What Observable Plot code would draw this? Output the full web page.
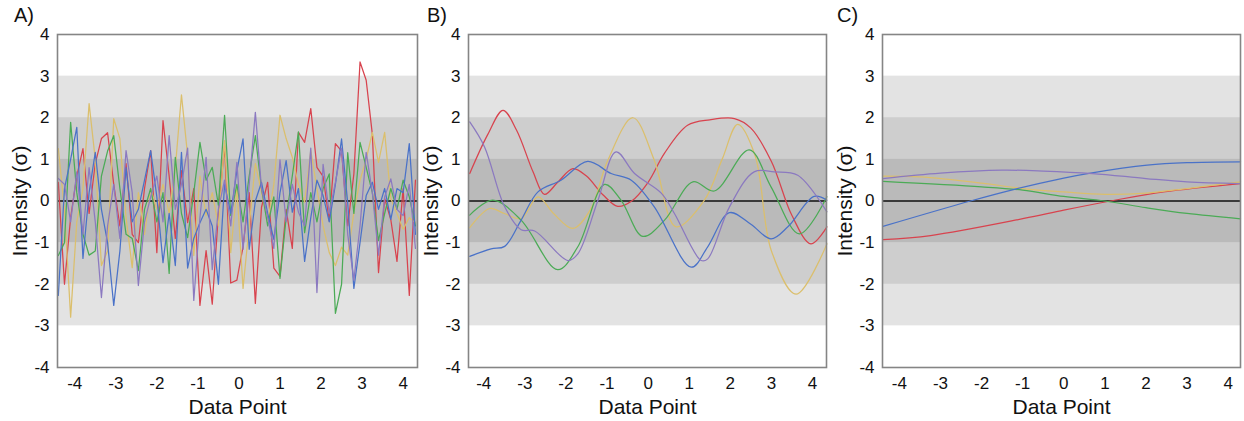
<!DOCTYPE html>
<html>
<head>
<meta charset="utf-8">
<script src="https://cdn.jsdelivr.net/npm/d3@7"></script>
<script src="https://cdn.jsdelivr.net/npm/@observablehq/plot@0.6"></script>
<style>
  html, body { margin: 0; padding: 0; background: #fff; }
  #wrap { position: relative; width: 1244px; height: 421px; overflow: hidden; font-family: "Liberation Sans", Arial, Helvetica, sans-serif; }
  .panel { position: absolute; top: 0; }
  .tag { position: absolute; top: 4px; font-size: 20px; color: #111; }
</style>
</head>
<body>
<div id="wrap"></div>
<script>
// ---------- data ----------
const seriesNames = ["Series 1", "Series 2", "Series 3", "Series 4", "Series 5"];
const seriesColors = ["#d8434e", "#dbbf6c", "#4bab56", "#4a72c8", "#8b79c0"];
const xTicks = [-4, -3, -2, -1, 0, 1, 2, 3, 4];
const yTicks = [-4, -3, -2, -1, 0, 1, 2, 3, 4];
const bandLevels = [3, 2, 1];
const bandColors = ["#e3e3e3", "#cecece", "#bababa"];

// Panel A: data point positions (index grid) and noisy series
const xA = d3.range(59).map(i => -4.4 + 0.15 * i);
const redA = [0.45,-2.0,-0.4,0.6,1.26,-0.3,0.9,1.5,1.64,0.4,-0.6,0.9,-0.8,-1.0,0.3,1.21,-1.24,1.93,0.6,-0.9,0.73,-0.52,0.3,-2.51,-1.19,-2.48,-0.3,1.33,-1.97,-1.9,-1.1,0.2,-2.46,-0.15,0.45,-1.61,-1.81,-0.2,-1.14,1.65,1.41,2.22,0.81,0.59,-0.48,1.38,1.2,-0.6,0.65,3.34,2.9,1.6,-1.72,0.06,-0.45,-1.45,0.3,-2.27,0.5];
const yellowA = [1.26,-0.2,-2.79,-0.5,0.3,2.34,1.0,-1.55,-1.2,1.98,1.5,-0.4,-1.6,0.2,-0.8,0.3,-0.2,0.4,-0.3,0.8,2.55,1.09,-1.31,0.6,-0.35,0.2,-0.6,1.45,-1.24,0.3,-2.1,-0.6,0.9,0.2,-0.5,0.4,2.06,1.5,1.05,0.4,-0.03,1.21,0.3,-0.6,-1.24,-1.55,-1.11,-1.3,-0.28,0.5,1.0,1.65,0.93,1.65,0.06,-0.3,-0.68,-0.4,-0.52];
const greenA = [-1.31,-1.0,1.89,0.2,-0.8,-1.3,-1.2,0.6,1.2,1.57,0.3,-0.8,-0.9,-1.67,-0.2,0.3,-0.5,0.2,-1.74,1.05,-0.3,-0.88,0.2,1.41,0.5,0.81,-0.1,2.06,-0.35,0.4,-0.5,0.6,1.57,0.3,-0.6,0.1,-1.86,-0.4,0.6,1.66,-0.76,0.2,-0.5,0.3,0.65,-2.7,-2.0,1.16,-0.3,1.41,0.81,0.2,-0.95,-0.3,0.3,-0.2,0.5,0.1,-0.6];
const blueA = [-2.27,0.3,1.0,1.77,-1.38,0.2,1.17,-0.2,-1.0,-2.51,-1.2,0.8,-0.5,-0.2,0.5,1.21,0.1,-1.48,-0.3,-1.55,1.17,-1.61,-0.9,-0.52,-0.2,-0.6,-2.0,0.4,-0.3,0.73,1.49,-1.16,0.0,0.45,-0.3,-0.92,0.2,0.97,-0.27,0.3,-1.45,-0.4,0.5,0.13,-0.5,0.4,1.49,-0.05,-2.1,-1.0,0.13,0.45,-0.2,0.3,-0.44,0.3,0.2,1.38,-0.8];
const purpleA = [0.54,0.4,-0.5,0.7,-0.8,0.8,-0.5,-2.32,-0.6,0.4,-0.9,1.21,0.2,-2.03,-0.5,0.1,0.6,-0.5,1.57,-0.2,0.4,1.27,-2.39,-0.4,1.05,-1.65,-0.2,0.5,-0.6,0.93,-1.16,0.4,2.13,0.3,-0.4,-1.14,0.99,-0.5,0.4,-0.27,-0.6,1.27,-2.2,0.88,-0.3,0.45,1.27,-0.8,-1.9,-0.6,1.17,0.2,-1.3,0.1,0.53,-0.2,-0.35,0.4,-1.14];

// Panel B: smoothed series (x, y knots)
const redBx = [-4.34,-3.9,-3.53,-3.2,-2.8,-2.52,-2.2,-1.83,-1.5,-1.1,-0.74,-0.4,0,0.4,0.96,1.5,2.1,2.5,3.0,3.5,3.96,4.35];
const redBy = [0.66,1.6,2.18,1.7,0.7,0.16,0.45,0.78,0.6,0.15,-0.13,0.0,0.45,1.15,1.82,1.95,1.98,1.75,0.95,-0.35,-1.03,-0.62];
const yellowBx = [-4.34,-3.86,-3.5,-3.09,-2.68,-2.3,-1.83,-1.4,-0.98,-0.37,0.15,0.68,1.37,1.8,2.18,2.6,3.0,3.6,4.35];
const yellowBy = [-0.64,-0.18,-0.3,-0.42,0.1,-0.3,-0.66,-0.2,0.98,2.0,0.98,-0.62,0.02,1.0,1.84,1.1,-1.2,-2.24,-1.03];
const greenBx = [-4.34,-3.78,-3.09,-2.2,-1.71,-1.06,-0.66,-0.13,0.4,1.09,1.61,2.46,2.99,3.68,4.35];
const greenBy = [-0.34,0.02,-0.46,-1.65,-1.1,0.4,0.02,-0.85,-0.46,0.46,0.24,1.23,0.34,-0.79,0.1];
const blueBx = [-4.34,-3.82,-3.49,-3.09,-2.68,-2.12,-1.47,-0.9,-0.41,0.15,1.05,1.45,1.98,2.5,2.99,3.4,4.04,4.35];
const blueBy = [-1.33,-1.15,-1.09,-0.46,0.22,0.5,0.95,0.66,0.5,-0.14,-1.59,-1.1,-0.28,-0.56,-0.91,-0.62,0.11,0.02];
const purpleBx = [-4.34,-3.98,-3.49,-3.09,-2.76,-1.95,-1.71,-1.22,-0.78,-0.33,0.32,0.64,1.29,1.45,1.98,2.58,3.07,3.64,4.35];
const purpleBy = [1.9,1.3,-0.14,-0.69,-0.72,-1.43,-1.27,0.02,1.18,0.66,0.19,-0.3,-1.43,-1.39,-0.14,0.7,0.7,0.62,-0.26];

// Panel C: very smooth series
const blueCx = [-4.4,-2.27,-1.2,0,0.65,2.03,3,4.3];
const blueCy = [-0.61,0,0.28,0.55,0.67,0.86,0.92,0.94];
const redCx = [-4.4,-3.24,-0.97,0,1.14,2.43,4.3];
const redCy = [-0.93,-0.83,-0.42,-0.22,0,0.22,0.42];
const greenCx = [-4.4,-2,-1,0,1,2,3,4.3];
const greenCy = [0.47,0.34,0.26,0.11,0,-0.16,-0.3,-0.43];
const purpleCx = [-4.4,-3,-1.5,-0.5,0.7,2,3,4.3];
const purpleCy = [0.54,0.67,0.74,0.72,0.66,0.54,0.46,0.42];
const yellowCx = [-4.4,-3.5,-2,-1,0,1,2,3,4.3];
const yellowCy = [0.6,0.58,0.43,0.3,0.22,0.16,0.19,0.3,0.46];

// ---------- build tables ----------
function table(name, xs, ys) { return xs.map((x, i) => ({series: name, x, y: ys[i]})); }
const [S1, S2, S3, S4, S5] = seriesNames; // red, yellow, green, blue, purple
const dataA = [].concat(
  table(S1, xA, redA), table(S2, xA, yellowA), table(S3, xA, greenA),
  table(S4, xA, blueA), table(S5, xA, purpleA));
const dataB = [].concat(
  table(S1, redBx, redBy), table(S2, yellowBx, yellowBy), table(S3, greenBx, greenBy),
  table(S4, blueBx, blueBy), table(S5, purpleBx, purpleBy));
const dataC = [].concat(
  table(S1, redCx, redCy), table(S2, yellowCx, yellowCy), table(S3, greenCx, greenCy),
  table(S4, blueCx, blueCy), table(S5, purpleCx, purpleCy));
const bands = bandLevels.map((v, i) => ({y1: -v, y2: v, fill: bandColors[i]}));

const FONT = '"Liberation Sans", Arial, Helvetica, sans-serif';

function panel(data, curve, width, mLeft, mRight, xDomain) {
  return Plot.plot({
    width, height: 421,
    marginLeft: mLeft, marginRight: mRight, marginTop: 34, marginBottom: 54,
    style: {fontFamily: FONT, fontSize: "17px", background: "transparent", color: "#111"},
    x: {domain: xDomain},
    y: {domain: [-4, 4]},
    color: {domain: seriesNames, range: seriesColors},
    marks: [
      Plot.rect(bands, {y1: "y1", y2: "y2", fill: "fill"}),
      Plot.ruleY([0], {stroke: "#3a3a3a", strokeWidth: 2}),
      Plot.line(data, {x: "x", y: "y", z: "series", stroke: "series", strokeWidth: 1.25, curve}),
      Plot.frame({stroke: "#858585", strokeWidth: 1.6}),
      Plot.axisX(xTicks, {tickSize: 0, tickPadding: 9, tickFormat: d => String(d), label: null}),
      Plot.axisY(yTicks, {tickSize: 0, tickPadding: 8, tickFormat: d => String(d), label: null}),
      Plot.text(["Data Point"], {frameAnchor: "bottom", lineAnchor: "middle", dy: 40, fontSize: 21, fill: "#111"}),
      Plot.text(["Intensity (σ)"], {frameAnchor: "left", textAnchor: "middle", lineAnchor: "middle", rotate: -90, dx: -37, fontSize: 21, fill: "#111"})
    ]
  });
}

const wrap = document.getElementById("wrap");
const specs = [
  {left: 0, tag: "A)", tagX: 14, chart: panel(dataA, "linear", 420, 57, 3, [-4.42, 4.35])},
  {left: 420, tag: "B)", tagX: 427, chart: panel(dataB, "catmull-rom", 410, 48, 4, [-4.37, 4.34])},
  {left: 830, tag: "C)", tagX: 837, chart: panel(dataC, "catmull-rom", 414, 52, 4, [-4.41, 4.3])}
];
for (const s of specs) {
  const d = document.createElement("div");
  d.className = "panel";
  d.style.left = s.left + "px";
  d.appendChild(s.chart);
  wrap.appendChild(d);
  const t = document.createElement("div");
  t.className = "tag";
  t.style.left = s.tagX + "px";
  t.textContent = s.tag;
  wrap.appendChild(t);
}
</script>
</body>
</html>
